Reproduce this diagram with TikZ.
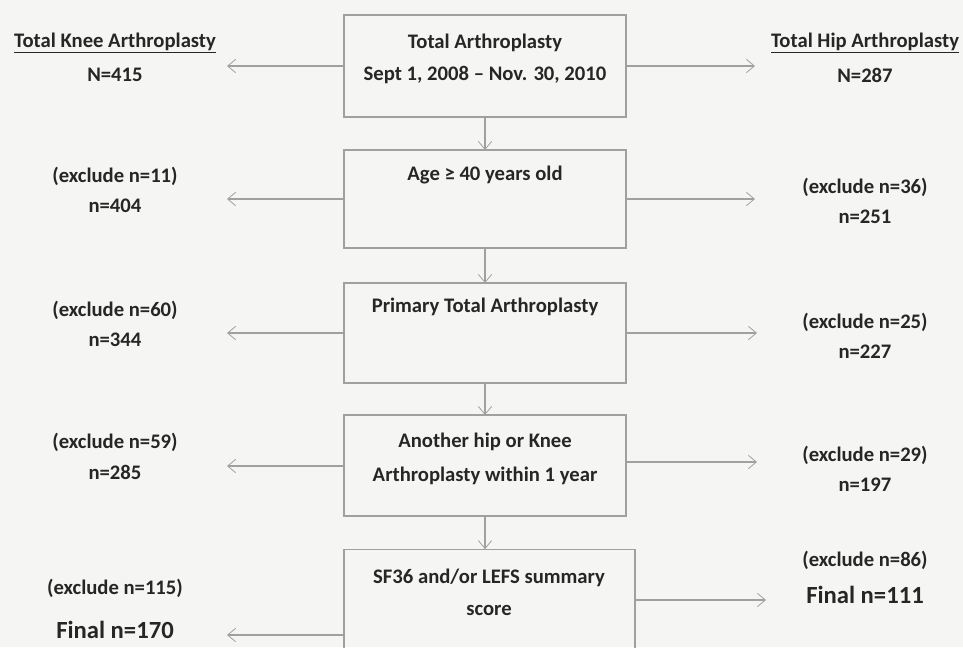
\documentclass[tikz,border=0pt]{standalone}
\usepackage{fontspec}
\setmainfont{Carlito}
\usetikzlibrary{arrows.meta}
\definecolor{bg}{RGB}{245,245,243}
\definecolor{ln}{RGB}{160,160,160}
\definecolor{tx}{RGB}{38,38,38}
\begin{document}
\begin{tikzpicture}[x=0.75pt,y=-0.75pt,
  every node/.style={inner sep=0pt,outer sep=0pt},
  txt/.style={font=\bfseries\fontsize{15.5}{20}\selectfont,text=tx,anchor=center},
  big/.style={font=\bfseries\fontsize{18.5}{22}\selectfont,text=tx,anchor=center},
  box/.style={draw=ln,line width=0.8pt,rectangle,minimum width=211.5pt},
  arr/.style={draw=ln,line width=0.8pt,-{Straight Barb[length=6pt,width=10pt,line width=0.6pt]}}]
\fill[bg] (0,0) rectangle (963,647);
\clip (0,0) rectangle (963,647);
% boxes
\node[box,minimum height=76.5pt] (b1) at (485,66) {};
\node[box,minimum height=73.5pt] (b2) at (485,199) {};
\node[box,minimum height=75pt]   (b3) at (485,333) {};
\node[box,minimum height=75.75pt] (b4) at (485,465.5) {};
\node[box,minimum width=218.25pt,minimum height=128pt] (b5) at (489.5,634.5) {};
% box texts
\node[txt] (t1a) at (485,43) {Total Arthroplasty};
\node[txt] (t1b) at (485,75) {Sept 1, 2008 – Nov. 30, 2010};
\node[txt] (t2) at (485,175) {Age ≥ 40 years old};
\node[txt] (t3) at (485,307) {Primary Total Arthroplasty};
\node[txt] (t4a) at (485,442) {Another hip or Knee};
\node[txt] (t4b) at (485,476) {Arthroplasty within 1 year};
\node[txt] (t5a) at (489,578) {SF36 and/or LEFS summary};
\node[txt] (t5b) at (489,610) {score};
% left column
\node[txt] (k1a) at (115,43) {\underline{Total Knee Arthroplasty}};
\node[txt] (k1b) at (115,75) {N=415};
\node[txt] (k2a) at (115,176) {(exclude n=11)};
\node[txt] (k2b) at (115,206) {n=404};
\node[txt] (k3a) at (115,310) {(exclude n=60)};
\node[txt] (k3b) at (115,340) {n=344};
\node[txt] (k4a) at (115,442) {(exclude n=59)};
\node[txt] (k4b) at (115,472) {n=285};
\node[txt] (k5a) at (115,588) {(exclude n=115)};
\node[big] (k5b) at (115,630) {Final n=170};
% right column
\node[txt] (h1a) at (865,43) {\underline{Total Hip Arthroplasty}};
\node[txt] (h1b) at (865,75) {N=287};
\node[txt] (h2a) at (865,187) {(exclude n=36)};
\node[txt] (h2b) at (865,217) {n=251};
\node[txt] (h3a) at (865,322) {(exclude n=25)};
\node[txt] (h3b) at (865,352) {n=227};
\node[txt] (h4a) at (865,455) {(exclude n=29)};
\node[txt] (h4b) at (865,485) {n=197};
\node[txt] (h5a) at (865,560) {(exclude n=86)};
\node[big] (h5b) at (865,595) {Final n=111};
% arrow end points
\coordinate (l1) at (227,66);
\coordinate (l2) at (227,199);
\coordinate (l3) at (227,333);
\coordinate (l4) at (227,466);
\coordinate (l5) at (227,635);
\coordinate (r1) at (755,66);
\coordinate (r2) at (755,199);
\coordinate (r3) at (757,333);
\coordinate (r4) at (757,462);
\coordinate (r5) at (766,600);
% side arrows
\draw[arr] (b1.west) -- (l1);
\draw[arr] (b2.west) -- (l2);
\draw[arr] (b3.west) -- (l3);
\draw[arr] (b4.west |- l4) -- (l4);
\draw[arr] (b5.west |- l5) -- (l5);
\draw[arr] (b1.east) -- (r1);
\draw[arr] (b2.east) -- (r2);
\draw[arr] (b3.east) -- (r3);
\draw[arr] (b4.east |- r4) -- (r4);
\draw[arr] (b5.east |- r5) -- (r5);
% vertical arrows
\draw[arr] (b1.south) -- (b2.north);
\draw[arr] (b2.south) -- (b3.north);
\draw[arr] (b3.south) -- (b4.north);
\draw[arr] (b4.south) -- (b4.south |- b5.north);
\end{tikzpicture}
\end{document}
